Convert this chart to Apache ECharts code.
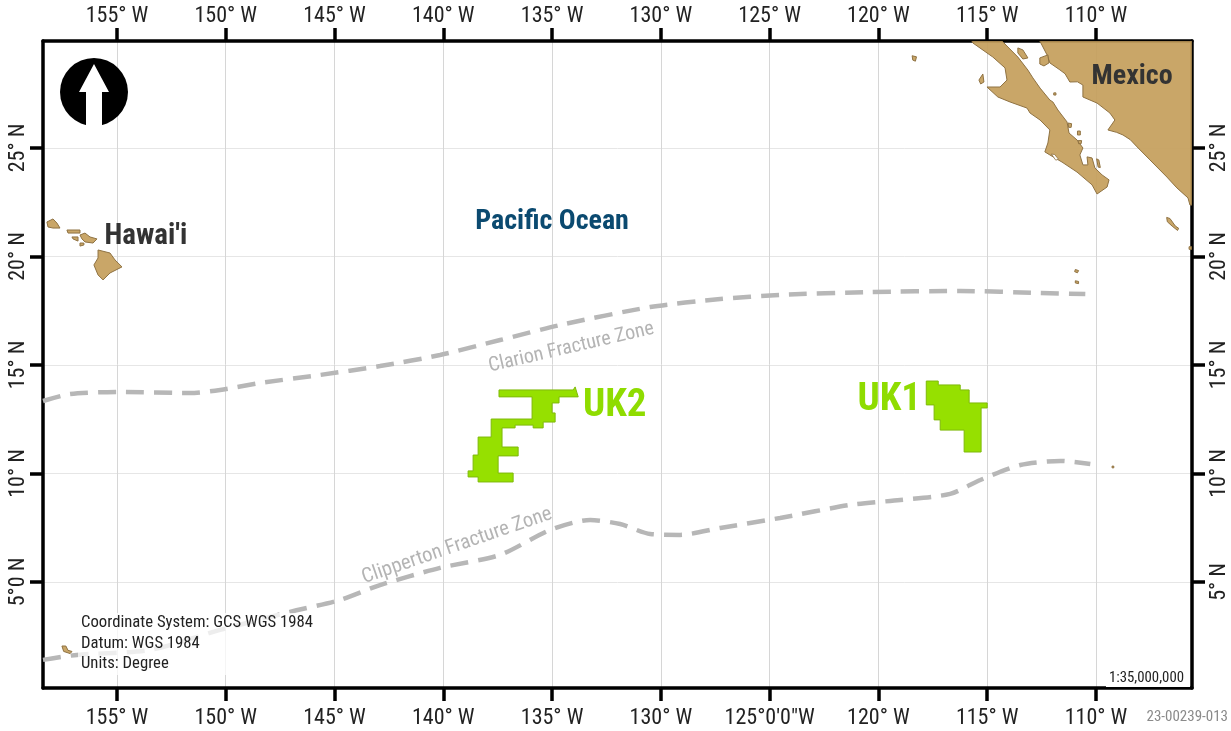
<!DOCTYPE html>
<html><head><meta charset="utf-8">
<style>html,body{margin:0;padding:0;background:#fff}#c{width:1231px;height:731px}</style>
<script src="https://cdn.jsdelivr.net/npm/echarts@6/dist/echarts.min.js"></script>
</head><body><div id="c"></div>
<script>
const lonTicks=[-155,-150,-145,-140,-135,-130,-125,-120,-115,-110];
const latTicks=[5,10,15,20,25];
const topLonLabels=["155° W","150° W","145° W","140° W","135° W","130° W","125° W","120° W","115° W","110° W"];
const bottomLonLabels=["155° W","150° W","145° W","140° W","135° W","130° W","125°0'0\"W","120° W","115° W","110° W"];
const leftLatLabels=["5°0 N","10° N","15° N","20° N","25° N"];
const rightLatLabels=["5° N","10° N","15° N","20° N","25° N"];

const mexicoMain=[[-112.58,29.93],[-112.25,29.29],[-112.12,28.92],[-111.66,28.60],[-111.42,28.42],[-111.20,28.04],[-110.85,28.05],[-110.60,27.90],[-110.60,27.35],[-109.95,27.07],[-109.36,26.61],[-109.13,26.29],[-109.45,25.83],[-109.05,25.72],[-108.76,25.60],[-108.42,25.38],[-108.11,25.05],[-107.52,24.45],[-106.74,23.66],[-106.28,23.16],[-105.77,22.70],[-105.68,22.37],[-105.59,22.37],[-105.59,29.93]];
const baja=[[-115.70,29.93],[-114.32,29.93],[-113.59,29.19],[-113.13,28.59],[-112.90,28.23],[-112.57,27.76],[-112.12,27.21],[-111.98,27.12],[-111.75,26.75],[-111.33,26.20],[-111.24,25.69],[-110.87,25.37],[-110.60,25.00],[-110.74,24.68],[-110.60,24.22],[-110.37,24.22],[-110.41,24.59],[-110.18,24.54],[-110.05,24.08],[-109.72,23.76],[-109.40,23.53],[-109.49,23.20],[-109.95,22.88],[-110.18,23.30],[-110.87,23.89],[-111.56,24.35],[-112.12,24.68],[-112.35,24.82],[-112.21,25.23],[-112.12,25.83],[-112.57,26.29],[-113.03,26.61],[-113.17,26.84],[-113.95,27.12],[-114.51,27.35],[-115.01,27.81],[-114.41,27.81],[-114.09,28.13],[-114.18,28.69],[-114.74,29.19],[-115.66,29.84]];
const guardaIsland=[[-113.59,29.61],[-113.36,29.52],[-113.13,29.15],[-113.36,29.10],[-113.59,29.38]];
const tiburonIsland=[[-112.58,29.15],[-112.21,29.29],[-112.16,28.92],[-112.39,28.78],[-112.58,28.87]];
const cedrosIsland=[[-115.38,28.13],[-115.20,28.41],[-115.15,28.04],[-115.30,27.95]];
const guadalupeIsland=[[-118.45,29.25],[-118.25,29.20],[-118.30,29.00],[-118.42,29.05]];
const mariasIslands=[[-106.75,21.80],[-106.60,21.75],[-106.35,21.40],[-106.20,21.30],[-106.25,21.20],[-106.50,21.40],[-106.72,21.60]];
const socorroIsland=[[-110.95,19.40],[-110.80,19.35],[-110.85,19.25],[-110.98,19.30]];
const clarionIsland=[[-110.95,18.88],[-110.80,18.85],[-110.80,18.75],[-110.95,18.78]];
const clippertonRock=[[-109.26,10.34],[-109.18,10.34],[-109.18,10.26],[-109.26,10.26]];
const edgeIsland=[[-105.72,20.45],[-105.60,20.45],[-105.60,20.33],[-105.72,20.33]];
const gulfIsleA=[[-111.28,26.15],[-111.12,26.12],[-111.14,25.95],[-111.26,25.95]];
const gulfIsleB=[[-110.85,25.78],[-110.72,25.78],[-110.72,25.60],[-110.85,25.60]];
const gulfIsleC=[[-110.82,25.34],[-110.66,25.34],[-110.68,25.20],[-110.80,25.20]];
const gulfIsleD=[[-109.97,24.50],[-109.87,24.45],[-109.80,24.10],[-109.90,24.12]];
const gulfIsleE=[[-111.94,27.54],[-111.84,27.54],[-111.84,27.44],[-111.94,27.44]];
const hawaiiBig=[[-155.87,20.30],[-155.32,20.16],[-155.09,19.84],[-154.77,19.52],[-155.32,19.24],[-155.64,18.92],[-155.87,19.15],[-156.06,19.61],[-155.87,19.93]];
const maui=[[-156.70,20.99],[-156.47,21.08],[-156.24,20.90],[-155.92,20.81],[-156.10,20.62],[-156.47,20.67],[-156.61,20.81]];
const molokai=[[-157.30,21.22],[-156.70,21.22],[-156.70,21.08],[-157.25,21.08]];
const lanai=[[-157.07,20.90],[-156.79,20.90],[-156.79,20.71],[-157.02,20.81]];
const kahoolawe=[[-156.70,20.62],[-156.52,20.62],[-156.52,20.53],[-156.70,20.48]];
const oahu=[[-158.22,21.59],[-157.94,21.73],[-157.76,21.54],[-157.62,21.31],[-157.94,21.31],[-158.17,21.36]];
const kiritimati=[[-157.53,2.05],[-157.35,2.05],[-157.25,1.85],[-157.07,1.80],[-157.15,1.70],[-157.45,1.80]];
const landShapes=[mexicoMain,baja,guardaIsland,tiburonIsland,cedrosIsland,guadalupeIsland,mariasIslands,socorroIsland,clarionIsland,clippertonRock,edgeIsland,gulfIsleA,gulfIsleB,gulfIsleC,gulfIsleD,gulfIsleE,hawaiiBig,maui,molokai,lanai,kahoolawe,oahu,kiritimati];
const magdalenaLagoon=[[-112.05,24.72],[-111.90,24.70],[-111.72,24.48],[-111.85,24.44]];
const lagoonShapes=[magdalenaLagoon];

const uk1=[[-117.80,14.26],[-117.25,14.26],[-117.25,14.08],[-116.24,14.08],[-116.24,13.85],[-115.83,13.85],[-115.83,13.25],[-115,13.25],[-115,13.02],[-115.28,13.02],[-115.28,10.99],[-116.06,10.99],[-116.06,12.00],[-117.16,12.00],[-117.16,12.47],[-117.44,12.47],[-117.44,13.16],[-117.80,13.16]];
const uk2=[[-137.44,13.85],[-134.03,13.85],[-133.94,13.99],[-133.80,13.53],[-134.68,13.53],[-134.68,13.25],[-135,13.25],[-135,12.79],[-134.86,12.79],[-134.86,12.37],[-135.41,12.37],[-135.41,12.10],[-135.87,12.10],[-135.87,12.23],[-136.70,12.23],[-136.70,12.10],[-137.30,12.10],[-137.30,11.22],[-136.56,11.22],[-136.56,10.81],[-137.48,10.81],[-137.48,10.02],[-136.79,10.02],[-136.79,9.61],[-138.40,9.61],[-138.40,9.84],[-138.86,9.84],[-138.86,10.12],[-138.63,10.12],[-138.63,10.85],[-138.40,10.85],[-138.40,11.68],[-137.80,11.68],[-137.80,12.51],[-135.92,12.51],[-135.92,13.53],[-137.44,13.53]];
const claimShapes=[uk1,uk2];

const clarionZone=[[-158.40,13.34],[-157.16,13.66],[-154.86,13.76],[-151.64,13.71],[-150.26,13.85],[-148.42,14.17],[-145.67,14.54],[-142.91,14.95],[-140.15,15.46],[-137.39,16.15],[-134.63,16.84],[-130.49,17.67],[-127.27,18.04],[-124.52,18.23],[-120.38,18.36],[-116.24,18.41],[-112.56,18.32],[-110.49,18.27]];
const clippertonZone=[[-158.40,1.41],[-156.84,1.64],[-153.48,1.87],[-150.26,2.79],[-147.05,3.62],[-144.75,4.17],[-142.91,4.86],[-140.15,5.65],[-137.39,6.25],[-135.09,7.40],[-133.25,7.86],[-131.87,7.67],[-130.49,7.21],[-129.11,7.17],[-127.27,7.49],[-124.52,7.95],[-121.30,8.55],[-119.00,8.78],[-116.70,9.06],[-115.32,9.70],[-113.48,10.39],[-111.64,10.58],[-110.26,10.44]];

const placeNames=["Mexico","Hawai'i","Pacific Ocean","UK2","UK1","Clarion Fracture Zone","Clipperton Fracture Zone"];
const placeLon=[-108.34,-153.67,-135,-132.12,-119.5,-134.12,-139.37];
const placeLat=[28.29,20.91,21.60,13.10,13.36,15.80,6.66];
const placeRot=[0,0,0,0,0,13,19];
const placeSize=[28,29,28,39,39,20,20.5];
const placeWeight=["bold","bold","bold","bold","bold","normal","normal"];
const placeColor=["#333333","#333333","#0b4a70","#8fdc00","#8fdc00","#b4b4b4","#b4b4b4"];

const FONT='"Roboto Condensed","Liberation Sans",sans-serif';
const LON_MIN=-158.40,LON_MAX=-105.586,LAT_MIN=0.115,LAT_MAX=29.93;

function axisCommon(){return {
  type:'value',
  axisLine:{show:true,onZero:false,lineStyle:{color:'#000',width:3.5}},
  axisTick:{show:true,inside:false,length:13,lineStyle:{color:'#000',width:3.5}},
  axisLabel:{color:'#222',fontFamily:FONT,fontSize:22,showMinLabel:true,showMaxLabel:true,hideOverlap:false}
};}
function lonAxis(pos,labels,grid){const a=axisCommon();return Object.assign(a,{
  position:pos,min:LON_MIN,max:LON_MAX,
  axisTick:Object.assign(a.axisTick,{customValues:lonTicks}),
  axisLabel:Object.assign(a.axisLabel,{customValues:lonTicks,margin:pos==='top'?14:19,formatter:v=>labels[lonTicks.indexOf(Math.round(v))]||''}),
  splitLine:{show:grid,lineStyle:{color:'#d6d6d6',width:1}}
});}
function latAxis(pos,labels,grid){const a=axisCommon();return Object.assign(a,{
  position:pos,min:LAT_MIN,max:LAT_MAX,
  axisTick:Object.assign(a.axisTick,{customValues:latTicks}),
  axisLabel:Object.assign(a.axisLabel,{customValues:latTicks,rotate:90,margin:pos==='left'?14:16,formatter:v=>labels[latTicks.indexOf(Math.round(v))]||''}),
  splitLine:{show:grid,lineStyle:{color:'#e6e6e6',width:1}}
});}
function polySeries(name,shapes,fill,stroke,lw,z){return {
  type:'custom',name,coordinateSystem:'cartesian2d',clip:true,z,silent:true,
  data:shapes.map((s,i)=>[s[0][0],s[0][1],i]),
  encode:{x:0,y:1},
  renderItem:(p,api)=>({type:'polygon',shape:{points:shapes[api.value(2)].map(c=>api.coord(c))},
    style:{fill,stroke,lineWidth:lw}})
};}
function zoneSeries(name,data){return {
  type:'line',name,data,showSymbol:false,symbol:'none',smooth:0.25,z:4,silent:true,clip:true,
  lineStyle:{color:'#b7b7b7',width:4.5,type:[18,10]}
};}

const chart=echarts.init(document.getElementById('c'),null,{renderer:'canvas'});
chart.setOption({
  animation:false,backgroundColor:'#fff',
  grid:{left:43,top:41,right:39,bottom:43,containLabel:false},
  xAxis:[lonAxis('bottom',bottomLonLabels,true),lonAxis('top',topLonLabels,false)],
  yAxis:[latAxis('left',leftLatLabels,true),latAxis('right',rightLatLabels,false)],
  series:[
    polySeries('land',landShapes,'rgba(197,159,92,0.93)','#8f7242',1,2),
    polySeries('lagoons',lagoonShapes,'#ffffff','#8f7242',0.8,3),
    zoneSeries('Clarion Fracture Zone',clarionZone),
    zoneSeries('Clipperton Fracture Zone',clippertonZone),
    polySeries('claims',claimShapes,'#96e000','#7fb90a',1,5),
    {type:'custom',name:'places',coordinateSystem:'cartesian2d',z:6,silent:true,clip:false,
     data:placeNames.map((n,i)=>[placeLon[i],placeLat[i],i]),encode:{x:0,y:1},
     renderItem:(p,api)=>{const i=api.value(2),c=api.coord([placeLon[i],placeLat[i]]);
       return {type:'text',x:c[0],y:c[1],rotation:placeRot[i]*Math.PI/180,
         style:{text:placeNames[i],fill:placeColor[i],align:'center',verticalAlign:'middle',
           font:`${placeWeight[i]} ${placeSize[i]}px ${FONT}`}};}}
  ],
  graphic:[
    {type:'circle',z:20,shape:{cx:94,cy:92,r:34},style:{fill:'#000'}},
    {type:'polygon',z:21,shape:{points:[[94,64],[109,92],[102,92],[102,127],[86,127],[86,92],[79,92]]},style:{fill:'#fff'}},
    {type:'rect',z:19,shape:{x:78,y:613,width:240,height:62},style:{fill:'rgba(255,255,255,0.75)'}},
    {type:'text',z:22,x:81,y:613,style:{text:'Coordinate System: GCS WGS 1984\nDatum: WGS 1984\nUnits: Degree',fill:'#222',font:`16.7px ${FONT}`,lineHeight:20.5}},
    {type:'rect',z:19,shape:{x:1106,y:670,width:84,height:17},style:{fill:'#fff'}},
    {type:'text',z:22,x:1184,y:671,style:{text:'1:35,000,000',fill:'#222',align:'right',font:`14.8px ${FONT}`}},
    {type:'text',z:22,x:1228,y:710,style:{text:'23-00239-013',fill:'#8a8a8a',align:'right',font:`15px ${FONT}`}}
  ]
});
</script></body></html>
